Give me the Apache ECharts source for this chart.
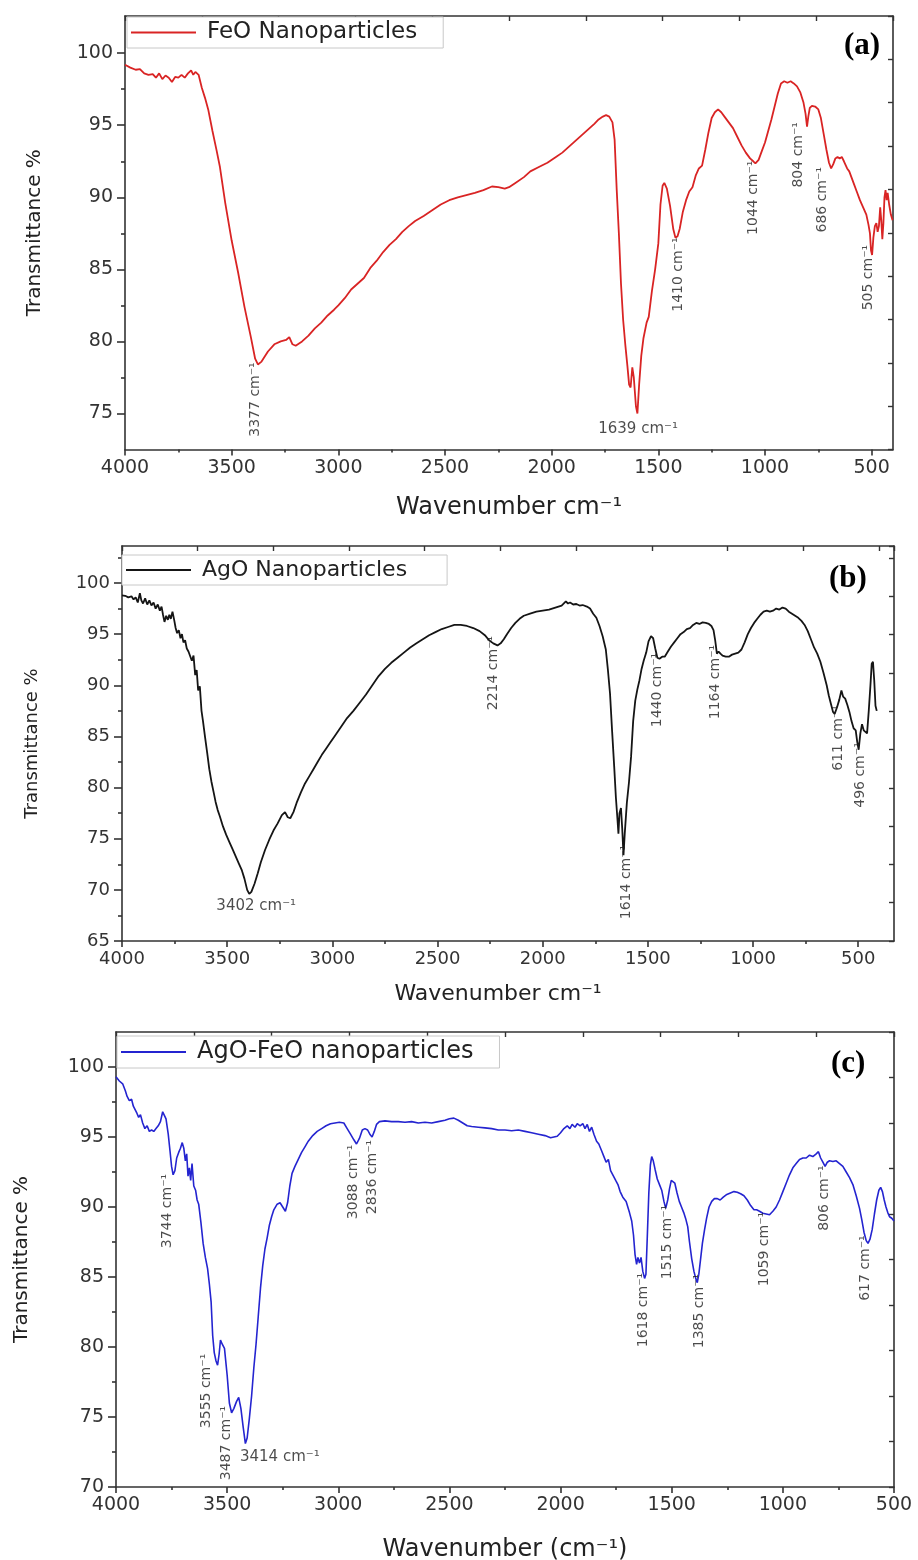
<!DOCTYPE html>
<html><head><meta charset="utf-8">
<script src="https://cdn.jsdelivr.net/npm/echarts@6/dist/echarts.min.js"></script>
<style>html,body{margin:0;padding:0;background:#fff}#c{width:918px;height:1560px}</style>
</head><body><div id="c"></div><script>
// ---------------- DATA ----------------
const xMajorTicks = [500,1000,1500,2000,2500,3000,3500,4000];
const xMinorTicks = [750,1250,1750,2250,2750,3250,3750];
const yMajorTicksA = [75,80,85,90,95,100];
const yMinorTicksA = [77.5,82.5,87.5,92.5,97.5];
const yMajorTicksB = [65,70,75,80,85,90,95,100];
const yMinorTicksB = [67.5,72.5,77.5,82.5,87.5,92.5,97.5,102.5];
const yMajorTicksC = [70,75,80,85,90,95,100];
const yMinorTicksC = [72.5,77.5,82.5,87.5,92.5,97.5];

const seriesNames = ['FeO Nanoparticles','AgO Nanoparticles','AgO-FeO nanoparticles'];
const panelLetters = ['(a)','(b)','(c)'];
const xAxisTitles = ['Wavenumber cm⁻¹','Wavenumber cm⁻¹','Wavenumber (cm⁻¹)'];
const yAxisTitle = 'Transmittance %';

// [wavenumber, transmittance]
const feoSpectrum = [[4000,99.2],[3975,99.0],[3950,98.85],[3930,98.9],[3910,98.6],[3890,98.5],[3870,98.55],[3855,98.3],[3840,98.6],[3825,98.2],[3810,98.45],[3795,98.3],[3780,98.0],[3765,98.35],[3750,98.3],[3735,98.5],[3720,98.3],[3705,98.6],[3690,98.8],[3680,98.5],[3670,98.7],[3655,98.5],[3640,97.6],[3625,96.9],[3610,96.1],[3590,94.6],[3570,93.2],[3555,92.1],[3530,89.6],[3500,87.0],[3470,84.8],[3440,82.4],[3410,80.3],[3390,78.8],[3377,78.4],[3360,78.6],[3330,79.3],[3300,79.8],[3270,80.0],[3245,80.1],[3230,80.3],[3215,79.8],[3200,79.7],[3170,80.0],[3140,80.4],[3110,80.9],[3080,81.3],[3050,81.8],[3020,82.2],[3000,82.5],[2970,83.0],[2940,83.6],[2910,84.0],[2880,84.4],[2850,85.1],[2820,85.6],[2790,86.2],[2760,86.7],[2730,87.1],[2700,87.6],[2670,88.0],[2640,88.35],[2600,88.7],[2560,89.1],[2520,89.5],[2480,89.8],[2440,90.0],[2400,90.15],[2360,90.3],[2320,90.5],[2280,90.75],[2250,90.7],[2220,90.6],[2200,90.7],[2170,91.0],[2130,91.4],[2100,91.8],[2060,92.1],[2020,92.4],[1980,92.8],[1950,93.1],[1920,93.5],[1890,93.9],[1860,94.3],[1830,94.7],[1800,95.1],[1780,95.4],[1760,95.6],[1745,95.7],[1730,95.6],[1715,95.2],[1705,94.0],[1695,90.5],[1685,87.5],[1675,84.0],[1665,81.5],[1655,79.8],[1645,78.3],[1637,77.0],[1630,76.8],[1622,78.2],[1615,77.5],[1605,75.5],[1598,75.0],[1590,77.0],[1580,79.0],[1570,80.2],[1555,81.3],[1545,81.7],[1530,83.5],[1515,85.0],[1500,86.8],[1490,89.5],[1480,90.8],[1472,91.0],[1460,90.6],[1445,89.4],[1430,87.8],[1420,87.2],[1410,87.3],[1400,87.8],[1385,89.0],[1370,89.8],[1355,90.4],[1340,90.7],[1325,91.5],[1310,92.0],[1295,92.2],[1280,93.3],[1265,94.5],[1250,95.5],[1235,95.9],[1220,96.1],[1205,95.9],[1190,95.6],[1170,95.2],[1150,94.8],[1130,94.2],[1110,93.6],[1090,93.1],[1070,92.7],[1055,92.5],[1045,92.35],[1030,92.6],[1015,93.2],[1000,93.8],[985,94.6],[970,95.4],[955,96.3],[940,97.2],[925,97.9],[910,98.05],[895,97.95],[880,98.05],[865,97.9],[850,97.7],[835,97.3],[820,96.6],[810,95.8],[803,94.9],[797,95.6],[790,96.2],[780,96.35],[765,96.3],[750,96.1],[738,95.5],[725,94.4],[712,93.3],[700,92.4],[690,92.0],[680,92.3],[670,92.7],[660,92.8],[650,92.7],[640,92.8],[630,92.5],[622,92.6],[615,92.0],[605,91.8],[595,91.4],[585,91.0],[570,90.4],[555,89.8],[540,89.3],[525,88.8],[515,88.1],[508,87.5],[503,86.3],[498,86.0],[492,87.2],[485,88.0],[478,88.2],[472,87.6],[466,88.0],[460,89.3],[455,88.4],[450,87.1],[445,88.2],[440,90.0],[435,90.5],[430,89.8],[425,90.3],[418,89.5],[410,88.8],[402,88.4]];

const agoSpectrum = [[4000,98.8],[3985,98.75],[3970,98.6],[3955,98.7],[3945,98.4],[3935,98.6],[3925,98.1],[3915,99.0],[3908,98.3],[3900,98.0],[3890,98.5],[3880,97.9],[3870,98.3],[3860,97.8],[3850,98.1],[3840,97.5],[3830,97.9],[3820,97.3],[3812,97.7],[3805,96.9],[3798,96.2],[3790,96.8],[3782,96.4],[3775,96.9],[3768,96.5],[3760,97.2],[3752,96.4],[3745,95.6],[3738,95.1],[3730,95.4],[3722,94.6],[3715,95.0],[3708,94.2],[3700,94.4],[3692,93.6],[3684,93.3],[3676,93.4],[3668,92.4],[3660,92.9],[3652,91.0],[3645,91.5],[3638,89.5],[3630,89.9],[3622,87.5],[3615,86.5],[3605,84.9],[3595,83.4],[3585,81.8],[3575,80.6],[3565,79.6],[3555,78.6],[3545,77.8],[3535,77.2],[3520,76.2],[3505,75.4],[3490,74.7],[3475,74.0],[3460,73.3],[3445,72.6],[3430,71.9],[3418,71.1],[3405,70.0],[3395,69.6],[3385,69.8],[3370,70.6],[3355,71.6],[3340,72.7],[3320,73.9],[3300,74.9],[3280,75.8],[3260,76.5],[3240,77.3],[3225,77.6],[3212,77.1],[3200,77.0],[3185,77.6],[3170,78.5],[3150,79.5],[3130,80.4],[3110,81.1],[3090,81.8],[3070,82.5],[3050,83.2],[3030,83.8],[3010,84.4],[2990,85.0],[2960,85.9],[2930,86.8],[2900,87.5],[2870,88.3],[2840,89.1],[2810,90.0],[2780,90.9],[2750,91.6],[2720,92.2],[2690,92.7],[2660,93.2],[2630,93.7],[2600,94.1],[2570,94.5],[2540,94.9],[2510,95.2],[2480,95.5],[2450,95.7],[2420,95.9],[2390,95.9],[2360,95.8],[2330,95.6],[2300,95.3],[2275,94.9],[2255,94.4],[2235,94.1],[2215,93.9],[2200,94.1],[2185,94.5],[2170,95.0],[2150,95.6],[2130,96.1],[2110,96.5],[2090,96.8],[2060,97.0],[2030,97.2],[2000,97.3],[1970,97.4],[1940,97.6],[1910,97.8],[1890,98.2],[1880,98.0],[1870,98.1],[1855,97.9],[1840,97.95],[1825,97.8],[1810,97.85],[1790,97.7],[1775,97.5],[1760,97.0],[1745,96.6],[1730,95.8],[1715,94.8],[1700,93.5],[1690,91.5],[1680,89.2],[1670,85.5],[1660,82.0],[1652,79.0],[1645,77.0],[1640,75.5],[1635,77.5],[1628,78.0],[1622,76.0],[1616,73.4],[1610,75.5],[1600,78.5],[1590,80.5],[1580,83.0],[1570,86.5],[1560,88.5],[1550,89.6],[1540,90.5],[1530,91.6],[1520,92.4],[1508,93.2],[1497,94.3],[1485,94.8],[1475,94.6],[1465,93.6],[1455,92.7],[1445,92.6],[1432,92.8],[1420,92.8],[1405,93.3],[1390,93.8],[1375,94.2],[1360,94.6],[1345,95.0],[1330,95.2],[1315,95.5],[1300,95.6],[1285,95.9],[1270,96.1],[1255,96.0],[1240,96.15],[1225,96.1],[1210,96.0],[1198,95.8],[1188,95.4],[1180,94.4],[1172,93.1],[1164,93.3],[1155,93.1],[1145,92.9],[1130,92.8],[1115,92.8],[1100,93.0],[1085,93.1],[1070,93.2],[1055,93.5],[1040,94.2],[1025,95.0],[1010,95.6],[995,96.1],[980,96.5],[965,96.9],[950,97.2],[935,97.3],[920,97.2],[905,97.3],[890,97.5],[875,97.4],[860,97.6],[845,97.5],[830,97.2],[815,97.0],[800,96.8],[785,96.6],[770,96.3],[755,95.9],[740,95.3],[725,94.5],[710,93.7],[695,93.1],[680,92.3],[665,91.2],[650,90.0],[640,89.0],[630,88.2],[620,87.4],[612,87.2],[600,87.9],[590,88.6],[580,89.5],[572,88.9],[562,88.7],[552,88.1],[542,87.4],[532,86.5],[522,85.8],[512,85.6],[505,84.5],[498,83.7],[490,85.3],[482,86.2],[474,85.6],[466,85.5],[458,85.3],[450,87.5],[442,90.0],[436,92.1],[430,92.3],[424,90.5],[418,88.0],[412,87.5]];

const mixSpectrum = [[4000,99.3],[3985,99.0],[3970,98.8],[3958,98.3],[3950,97.9],[3940,97.6],[3930,97.7],[3922,97.2],[3915,97.3],[3906,96.7],[3898,96.4],[3890,96.6],[3880,96.0],[3870,95.6],[3860,95.8],[3850,95.4],[3840,95.5],[3830,95.4],[3820,95.6],[3810,95.8],[3800,96.1],[3790,96.8],[3782,96.7],[3775,96.3],[3765,95.2],[3757,94.0],[3750,92.9],[3743,92.3],[3735,92.6],[3727,93.5],[3718,93.9],[3710,94.2],[3702,94.6],[3695,94.2],[3688,93.3],[3682,93.8],[3676,92.2],[3670,92.8],[3664,91.9],[3658,93.1],[3650,91.5],[3642,91.2],[3635,90.5],[3628,90.2],[3618,88.9],[3608,87.4],[3598,86.4],[3588,85.6],[3580,84.5],[3572,83.2],[3565,80.8],[3558,79.6],[3550,79.0],[3543,78.7],[3536,79.5],[3530,80.5],[3522,80.2],[3512,79.9],[3500,78.0],[3490,76.0],[3480,75.3],[3470,75.6],[3458,76.1],[3448,76.4],[3438,75.6],[3428,74.3],[3418,73.1],[3410,73.5],[3400,74.9],[3390,76.5],[3380,78.5],[3370,80.2],[3360,82.2],[3350,84.2],[3340,85.8],[3330,87.0],[3320,87.8],[3310,88.7],[3300,89.3],[3290,89.8],[3275,90.2],[3262,90.3],[3250,90.0],[3238,89.7],[3228,90.3],[3218,91.5],[3208,92.4],[3195,92.9],[3180,93.4],[3165,93.9],[3150,94.3],[3135,94.7],[3115,95.1],[3095,95.4],[3075,95.6],[3055,95.8],[3035,95.95],[3015,96.0],[2995,96.05],[2975,96.0],[2960,95.6],[2945,95.2],[2930,94.8],[2918,94.5],[2905,94.9],[2892,95.5],[2880,95.6],[2868,95.5],[2858,95.2],[2848,95.0],[2838,95.4],[2828,95.9],[2815,96.1],[2790,96.15],[2760,96.1],[2730,96.1],[2700,96.05],[2670,96.1],[2640,96.0],[2610,96.05],[2580,96.0],[2550,96.1],[2520,96.2],[2500,96.3],[2480,96.35],[2460,96.2],[2440,96.0],[2420,95.8],[2400,95.75],[2370,95.7],[2340,95.65],[2310,95.6],[2280,95.5],[2250,95.5],[2220,95.45],[2190,95.5],[2160,95.4],[2130,95.3],[2100,95.2],[2070,95.1],[2045,94.95],[2030,95.0],[2015,95.05],[2000,95.3],[1985,95.6],[1970,95.8],[1958,95.6],[1948,95.9],[1935,95.7],[1925,95.95],[1912,95.8],[1900,95.95],[1890,95.6],[1880,95.9],[1870,95.4],[1860,95.7],[1850,95.2],[1838,94.7],[1828,94.5],[1815,94.0],[1805,93.6],[1795,93.2],[1785,93.4],[1775,92.6],[1765,92.3],[1752,91.9],[1742,91.6],[1732,91.1],[1720,90.7],[1705,90.4],[1690,89.6],[1680,89.0],[1672,88.0],[1665,86.6],[1658,85.9],[1652,86.4],[1645,86.0],[1638,86.4],[1630,85.4],[1622,84.9],[1616,85.2],[1610,87.8],[1603,91.0],[1596,93.0],[1590,93.6],[1583,93.3],[1575,92.7],[1565,92.0],[1555,91.6],[1545,91.2],[1535,90.4],[1527,89.9],[1518,90.5],[1510,91.3],[1502,91.9],[1495,92.0],[1486,91.7],[1476,91.0],[1466,90.4],[1456,90.0],[1446,89.6],[1436,89.1],[1428,88.6],[1420,87.5],[1410,86.3],[1400,85.4],[1392,84.9],[1385,84.6],[1378,85.2],[1370,86.3],[1362,87.4],[1352,88.4],[1343,89.2],[1332,90.0],[1320,90.4],[1308,90.6],[1295,90.6],[1282,90.5],[1268,90.7],[1252,90.9],[1236,91.0],[1220,91.1],[1205,91.05],[1190,90.95],[1175,90.8],[1160,90.5],[1145,90.1],[1130,89.8],[1118,89.8],[1105,89.7],[1090,89.55],[1075,89.5],[1060,89.45],[1045,89.7],[1030,90.0],[1015,90.5],[1000,91.1],[985,91.7],[970,92.3],[955,92.8],[940,93.1],[925,93.4],[910,93.5],[895,93.5],[880,93.7],[865,93.6],[850,93.8],[840,93.95],[830,93.5],[820,93.2],[810,92.9],[800,93.2],[790,93.3],[775,93.25],[760,93.3],[745,93.1],[730,92.9],[715,92.5],[700,92.1],[685,91.6],[670,90.8],[655,89.9],[645,89.1],[635,88.2],[625,87.6],[617,87.4],[608,87.7],[598,88.4],[588,89.5],[578,90.5],[568,91.2],[560,91.4],[552,91.1],[544,90.5],[536,90.0],[528,89.6],[520,89.3],[510,89.2],[500,89.0]];

// peak annotations: [text, wavenumber anchor, transmittance anchor, orientation]
const feoPeaks = [['3377 cm⁻¹',3391,75.97,'v'],['1639 cm⁻¹',1595,73.9,'h'],['1410 cm⁻¹',1408,84.64,'v'],['1044 cm⁻¹',1056,89.97,'v'],['804 cm⁻¹',845,92.95,'v'],['686 cm⁻¹',733,89.83,'v'],['505 cm⁻¹',517,84.43,'v']];
const agoPeaks = [['3402 cm⁻¹',3362,68.43,'h'],['2214 cm⁻¹',2235,91.2,'v'],['1614 cm⁻¹',1603,70.77,'v'],['1440 cm⁻¹',1456,89.54,'v'],['1164 cm⁻¹',1180,90.32,'v'],['611 cm⁻¹',595,84.85,'v'],['496 cm⁻¹',491,81.23,'v']];
const mixPeaks = [['3744 cm⁻¹',3771,89.71,'v'],['3088 cm⁻¹',2934,91.79,'v'],['2836 cm⁻¹',2845,92.14,'v'],['3555 cm⁻¹',3595,76.86,'v'],['3487 cm⁻¹',3505,73.14,'v'],['3414 cm⁻¹',3263,72.14,'h'],['1618 cm⁻¹',1626,82.64,'v'],['1515 cm⁻¹',1518,87.5,'v'],['1385 cm⁻¹',1374,82.57,'v'],['1059 cm⁻¹',1082,87.0,'v'],['806 cm⁻¹',812,90.64,'v'],['617 cm⁻¹',628,85.64,'v']];

// ---------------- LAYOUT ----------------
const FONT = 'DejaVu Sans';
const AX = '#333';
const panels = [
  {data:feoSpectrum, peaks:feoPeaks, color:'#d92424', lw:1.8,
   grid:{left:125, top:16, width:768, height:433.5}, xMin:400, yMin:72.5, yMax:102.58,
   yMaj:yMajorTicksA, yMin2:yMinorTicksA, topMax:10, rightMax:10, tick:19,
   xNameGap:46, xNameFont:24, xNamePad:[0,0,0,0], yNameGap:80, yNameFont:20,
   legend:{left:127, top:17, font:23, padR:26}, letter:[864,47]},
  {data:agoSpectrum, peaks:agoPeaks, color:'#151515', lw:1.8,
   grid:{left:122, top:546, width:772, height:395}, xMin:330, yMin:65, yMax:103.62,
   yMaj:yMajorTicksB, yMin2:yMinorTicksB, topMax:10.2, rightMax:10.31, tick:18,
   xNameGap:42, xNameFont:22, xNamePad:[0,20,0,0], yNameGap:81, yNameFont:18,
   legend:{left:122, top:555, font:22, padR:40}, letter:[849,580]},
  {data:mixSpectrum, peaks:mixPeaks, color:'#2424d0', lw:1.6,
   grid:{left:116, top:1032, width:778, height:455}, xMin:500, yMin:70, yMax:102.5,
   yMaj:yMajorTicksC, yMin2:yMinorTicksC, topMax:10, rightMax:10, tick:19,
   xNameGap:51, xNameFont:24, xNamePad:[0,0,0,0], yNameGap:84, yNameFont:20,
   legend:{left:117, top:1036, font:24, padR:26}, letter:[851,1065]}
];

const grids=[], xAxes=[], yAxes=[], series=[], legends=[], graphics=[];
panels.forEach((p,g)=>{
  grids.push(Object.assign({outerBoundsMode:'none', containLabel:false}, p.grid));
  const line = {show:true, lineStyle:{color:AX, width:1.6}};
  // bottom main
  xAxes.push({gridIndex:g, type:'value', position:'bottom', min:p.xMin, max:4000, inverse:true,
    axisLine:line, splitLine:{show:false},
    axisTick:{show:true, inside:false, length:6, customValues:xMajorTicks, lineStyle:{color:AX,width:1.6}},
    axisLabel:{show:true, customValues:xMajorTicks, formatter:v=>String(v), margin:9, color:'#333', fontFamily:FONT, fontSize:p.tick},
    name:xAxisTitles[g], nameLocation:'middle', nameGap:p.xNameGap,
    nameTextStyle:{fontFamily:FONT, fontSize:p.xNameFont, color:'#222', padding:p.xNamePad}});
  // bottom minor
  xAxes.push({gridIndex:g, type:'value', position:'bottom', min:p.xMin, max:4000, inverse:true,
    axisLine:{show:false}, splitLine:{show:false}, axisLabel:{show:false},
    axisTick:{show:true, inside:false, length:3, customValues:xMinorTicks, lineStyle:{color:AX,width:1.6}}});
  // top frame
  xAxes.push({gridIndex:g, type:'value', position:'top', min:0, max:p.topMax, interval:1,
    axisLine:line, splitLine:{show:false}, axisLabel:{show:false},
    axisTick:{show:true, inside:true, length:5, lineStyle:{color:AX,width:1.4}}});
  // left main
  yAxes.push({gridIndex:g, type:'value', position:'left', min:p.yMin, max:p.yMax,
    axisLine:line, splitLine:{show:false},
    axisTick:{show:true, inside:false, length:8, customValues:p.yMaj, lineStyle:{color:AX,width:1.6}},
    axisLabel:{show:true, customValues:p.yMaj, formatter:v=>String(v), margin:12, color:'#333', fontFamily:FONT, fontSize:p.tick},
    name:yAxisTitle, nameLocation:'middle', nameRotate:90, nameGap:p.yNameGap,
    nameTextStyle:{fontFamily:FONT, fontSize:p.yNameFont, color:'#222'}});
  // left minor
  yAxes.push({gridIndex:g, type:'value', position:'left', min:p.yMin, max:p.yMax,
    axisLine:{show:false}, splitLine:{show:false}, axisLabel:{show:false},
    axisTick:{show:true, inside:false, length:4, customValues:p.yMin2, lineStyle:{color:AX,width:1.6}}});
  // right frame
  yAxes.push({gridIndex:g, type:'value', position:'right', min:0, max:p.rightMax, interval:1,
    axisLine:line, splitLine:{show:false}, axisLabel:{show:false},
    axisTick:{show:true, inside:true, length:5, lineStyle:{color:AX,width:1.4}}});

  series.push({type:'line', name:seriesNames[g], xAxisIndex:3*g, yAxisIndex:3*g,
    data:p.data, showSymbol:false, symbol:'none', smooth:false, clip:true,
    lineStyle:{color:p.color, width:p.lw}, itemStyle:{color:p.color}, z:3});
  series.push({type:'scatter', name:'peaks'+g, xAxisIndex:3*g, yAxisIndex:3*g, symbolSize:0, silent:true, z:4,
    data:p.peaks.map(k=>({value:[k[1],k[2]], label:{formatter:k[0], rotate:k[3]==='v'?90:0, fontSize:k[3]==='v'?14:15}})),
    label:{show:true, position:'inside', color:'#1e1e1e', fontFamily:FONT, fontSize:14}});

  legends.push({data:[seriesNames[g]], left:p.legend.left, top:p.legend.top, orient:'horizontal',
    icon:'rect', itemWidth:65, itemHeight:2, padding:[4,p.legend.padR,4,4],
    borderColor:'#c8c8c8', borderWidth:1, borderRadius:0, backgroundColor:'#fff',
    textStyle:{fontFamily:FONT, fontSize:p.legend.font, color:'#222', padding:[0,0,0,6]},
    selectedMode:false});

  graphics.push({type:'text', left:p.letter[0]-20, top:p.letter[1]-17, z:10,
    style:{text:panelLetters[g], font:'bold 31px "Liberation Serif"', fill:'#000'}});
});

const chart = echarts.init(document.getElementById('c'), null, {renderer:'canvas'});
chart.setOption({
  animation:false, backgroundColor:'#fff',
  grid:grids, xAxis:xAxes, yAxis:yAxes, series:series, legend:legends, graphic:graphics
});
</script></body></html>
